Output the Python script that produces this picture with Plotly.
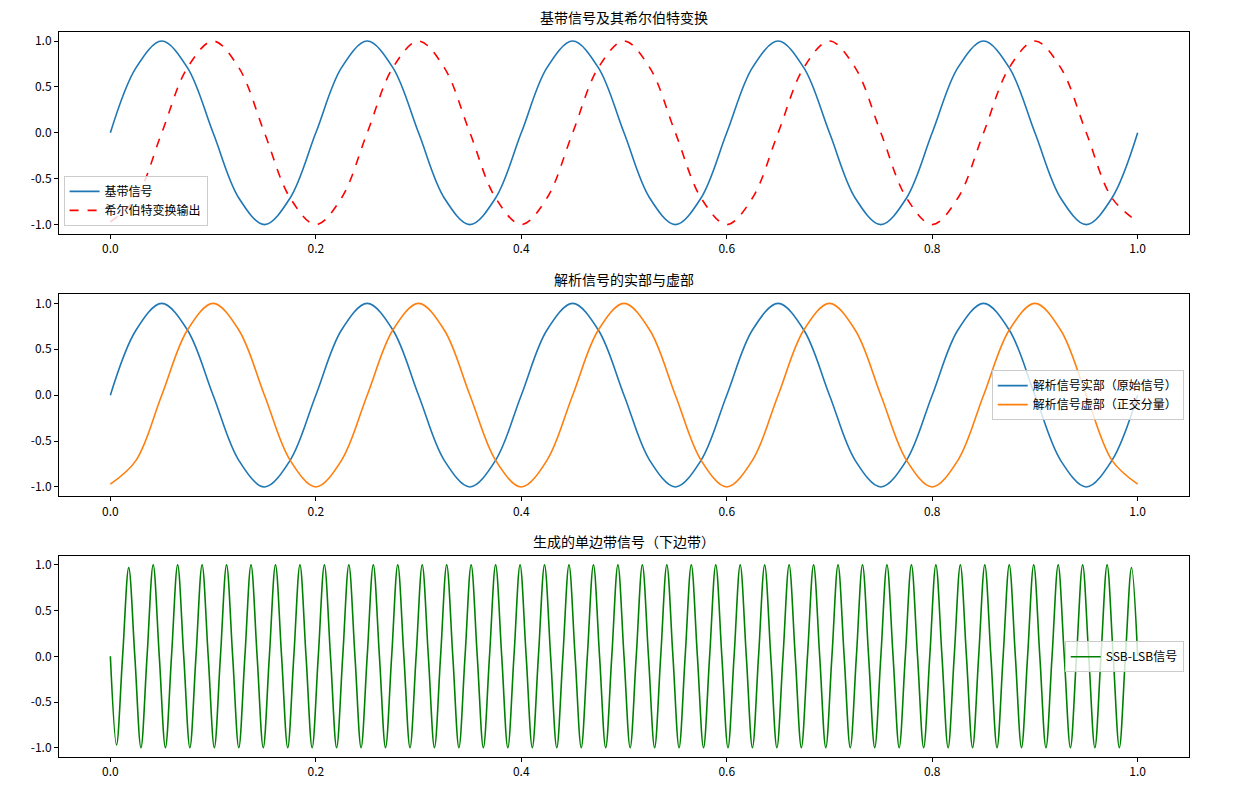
import numpy as np
import plotly.graph_objects as go

base_t = [0.0, 0.025, 0.05, 0.075, 0.1, 0.125, 0.15, 0.175, 0.2, 0.225, 0.25, 0.275, 0.3, 0.325, 0.35, 0.375,
          0.4, 0.425, 0.45, 0.475, 0.5, 0.525, 0.55, 0.575, 0.6, 0.625, 0.65, 0.675, 0.7, 0.725, 0.75, 0.775,
          0.8, 0.825, 0.85, 0.875, 0.9, 0.925, 0.95, 0.975, 1.0]
base_vals = [0, 0.71, 1, 0.71, 0, -0.71, -1, -0.71,
             0, 0.71, 1, 0.71, 0, -0.71, -1, -0.71,
             0, 0.71, 1, 0.71, 0, -0.71, -1, -0.71,
             0, 0.71, 1, 0.71, 0, -0.71, -1, -0.71,
             0, 0.71, 1, 0.71, 0, -0.71, -1, -0.71, 0]
hilb_vals = [-0.97, -0.71, 0, 0.71, 1, 0.71, 0, -0.71,
             -1, -0.71, 0, 0.71, 1, 0.71, 0, -0.71,
             -1, -0.71, 0, 0.71, 1, 0.71, 0, -0.71,
             -1, -0.71, 0, 0.71, 1, 0.71, 0, -0.71,
             -1, -0.71, 0, 0.71, 1, 0.71, 0, -0.71, -0.97]

ssb_vals = [0,
 -0.97, 0, 0.97, 0,
 -1, 0, 1, 0, -1, 0, 1, 0, -1, 0, 1, 0, -1, 0, 1, 0,
 -1, 0, 1, 0, -1, 0, 1, 0, -1, 0, 1, 0, -1, 0, 1, 0,
 -1, 0, 1, 0, -1, 0, 1, 0, -1, 0, 1, 0, -1, 0, 1, 0,
 -1, 0, 1, 0, -1, 0, 1, 0, -1, 0, 1, 0, -1, 0, 1, 0,
 -1, 0, 1, 0, -1, 0, 1, 0, -1, 0, 1, 0, -1, 0, 1, 0,
 -1, 0, 1, 0, -1, 0, 1, 0, -1, 0, 1, 0, -1, 0, 1, 0,
 -1, 0, 1, 0, -1, 0, 1, 0, -1, 0, 1, 0, -1, 0, 1, 0,
 -1, 0, 1, 0, -1, 0, 1, 0, -1, 0, 1, 0, -1, 0, 1, 0,
 -1, 0, 1, 0, -1, 0, 1, 0, -1, 0, 1, 0, -1, 0, 1, 0,
 -1, 0, 1, 0, -1, 0, 1, 0, -1, 0, 1, 0, -1, 0, 1, 0,
 -1, 0, 0.97, 0]
ssb_t = np.linspace(0, 1, len(ssb_vals))

titles = ["基带信号及其希尔伯特变换", "解析信号的实部与虚部", "生成的单边带信号（下边带）"]
tick_vals = [0.0, 0.2, 0.4, 0.6, 0.8, 1.0]
tick_text = ["0.0", "0.2", "0.4", "0.6", "0.8", "1.0"]
y_ticks = [-1.0, -0.5, 0.0, 0.5, 1.0]
y_text = ["-1.0", "-0.5", "0.0", "0.5", "1.0"]

domains = [[0.716, 0.970], [0.386, 0.640], [0.058, 0.311]]
xdom = [0.0413, 0.9563]
fig = go.Figure()
sp = dict(shape="spline", smoothing=1.0)
fig.add_trace(go.Scatter(x=base_t, y=base_vals, name="基带信号", line=dict(color="#1f77b4", width=1.6, **sp), xaxis="x", yaxis="y", legend="legend"))
fig.add_trace(go.Scatter(x=base_t, y=hilb_vals, name="希尔伯特变换输出", line=dict(color="red", width=1.6, dash="dash", **sp), xaxis="x", yaxis="y", legend="legend"))
fig.add_trace(go.Scatter(x=base_t, y=base_vals, name="解析信号实部（原始信号）", line=dict(color="#1f77b4", width=1.6, **sp), xaxis="x2", yaxis="y2", legend="legend2"))
fig.add_trace(go.Scatter(x=base_t, y=hilb_vals, name="解析信号虚部（正交分量）", line=dict(color="#ff7f0e", width=1.6, **sp), xaxis="x2", yaxis="y2", legend="legend2"))
fig.add_trace(go.Scatter(x=ssb_t, y=ssb_vals, name="SSB-LSB信号", line=dict(color="green", width=1.6, **sp), xaxis="x3", yaxis="y3", legend="legend3"))

axc = dict(showgrid=False, zeroline=False, showline=True, linecolor="black", linewidth=1, mirror=True,
           ticks="outside", ticklen=4, tickcolor="black")
lay = dict(width=1235, height=795, plot_bgcolor="white", paper_bgcolor="white",
           margin=dict(l=0, r=0, t=0, b=0),
           font=dict(family="Noto Sans CJK SC", size=12, color="black"), annotations=[])
xmid = (xdom[0] + xdom[1]) / 2
for i in range(3):
    s = "" if i == 0 else str(i + 1)
    lay["xaxis" + s] = dict(axc, domain=xdom, range=[-0.05, 1.05], tickvals=tick_vals, ticktext=tick_text, anchor="y" + s)
    lay["yaxis" + s] = dict(axc, domain=domains[i], range=[-1.1, 1.1], tickvals=y_ticks, ticktext=y_text, anchor="x" + s)
    lay["annotations"].append(dict(text=titles[i], x=xmid, y=domains[i][1], xref="paper", yref="paper",
                                   xanchor="center", yanchor="bottom", yshift=3, showarrow=False, font=dict(size=14)))
leg = dict(bgcolor="rgba(255,255,255,0.8)", bordercolor="#cccccc", borderwidth=1, font=dict(size=12))
lay["legend"] = dict(leg, x=0.045, y=0.726, xanchor="left", yanchor="bottom")
lay["legend2"] = dict(leg, x=0.952, y=0.513, xanchor="right", yanchor="middle")
lay["legend3"] = dict(leg, x=0.952, y=0.184, xanchor="right", yanchor="middle")
fig.update_layout(**lay)
fig.write_html("out.html")
